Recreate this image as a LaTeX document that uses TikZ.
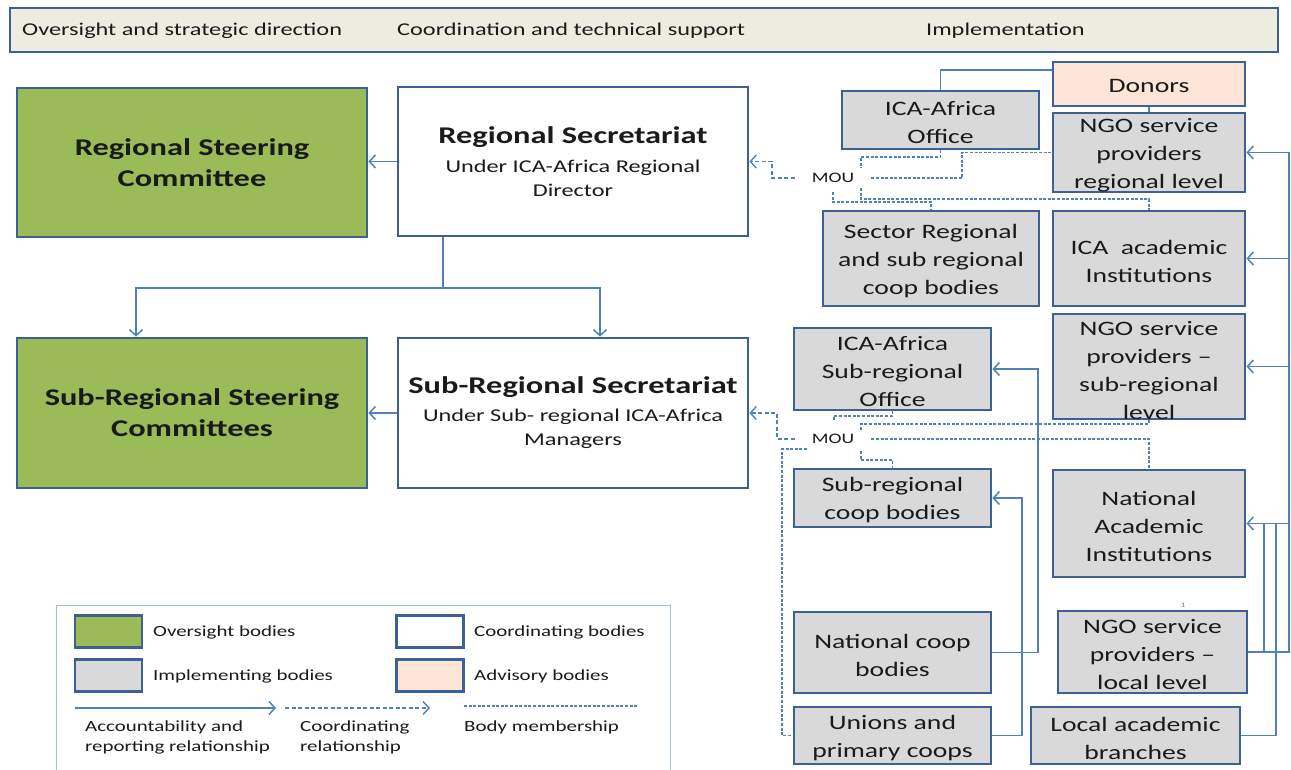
\documentclass[tikz,border=0pt]{standalone}
\usepackage{fontspec}
\setmainfont{Carlito}[FakeStretch=1.35]
\usetikzlibrary{arrows.meta}
\newcommand\fsz[2]{\fontsize{#1}{#2}\selectfont}
\definecolor{bordc}{HTML}{3D6194}
\definecolor{linec}{HTML}{4F81BD}
\definecolor{greenc}{HTML}{9BBB59}
\definecolor{grayc}{HTML}{D9D9D9}
\definecolor{peachc}{HTML}{FCE4D6}
\definecolor{hdrc}{HTML}{EEECE1}
\definecolor{legc}{HTML}{A7BCDA}
\definecolor{txtc}{HTML}{1A1A1A}
\tikzset{
  bx/.style={draw=bordc, line width=2.8pt, inner sep=0pt, align=center, text=txtc},
  oversight/.style={bx, fill=greenc, font=\bfseries\fsz{24}{31}},
  coordbody/.style={bx, fill=white, font=\fsz{18}{24}},
  impl/.style={bx, fill=grayc},
  advis/.style={bx, fill=peachc},
  % box text, set as a centred label a little below the box centre
  itxt/.style={font=\fsz{20.5}{28}, text=txtc, align=center, inner sep=0pt, yshift=-2.5pt},
  swatch/.style={bx, minimum width=67pt, minimum height=32pt},
  acc/.style={draw=linec, line width=1.5pt},
  accarrow/.style={acc, -{Straight Barb[length=6pt,width=13pt,line width=1.5pt]}},
  coordarrow/.style={draw=linec, line width=1.4pt, dash pattern=on 4pt off 2.5pt,
    -{Straight Barb[length=6pt,width=13pt,line width=1.4pt]}},
  member/.style={draw=linec, line width=1.4pt, dash pattern=on 3pt off 1.6pt},
  moutxt/.style={font=\fsz{14.5}{16}, text=txtc, inner xsep=17pt, inner ysep=2pt},
  hdrtxt/.style={font=\fsz{18}{22}, text=txtc, anchor=west, inner sep=0pt},
  legtxt/.style={font=\fsz{15.5}{20}, text=txtc, anchor=west, inner sep=0pt, align=left},
}
\begin{document}
\begin{tikzpicture}[x=1pt,y=-1pt]
\useasboundingbox (0,0) rectangle (1291,770);

% header band
\node[draw=bordc, line width=2.5pt, fill=hdrc, minimum width=1268pt, minimum height=44pt, inner sep=0pt] (hdr) at (644,30) {};
\node[hdrtxt] (h1) at (22,31) {Oversight and strategic direction};
\node[hdrtxt] (h2) at (397,31) {Coordination and technical support};
\node[hdrtxt] (h3) at (926,31) {Implementation};

% oversight and coordinating bodies
\node[oversight, minimum width=350pt, minimum height=149pt] (rsc) at (192,162.5) {Regional Steering\\Committee};
\node[oversight, minimum width=350pt, minimum height=150pt] (srsc) at (192,413) {Sub-Regional Steering\\Committees};
\node[coordbody, minimum width=350pt, minimum height=149pt] (rsec) at (573,161.5)
  {{\bfseries\fsz{24}{29}Regional Secretariat}\\[5pt]Under ICA-Africa Regional\\Director};
\node[coordbody, minimum width=350pt, minimum height=150pt] (srsec) at (573,413)
  {{\bfseries\fsz{24}{29}Sub-Regional Secretariat}\\[4pt]Under Sub- regional ICA-Africa\\Managers};

% implementing and advisory bodies
\node[advis, minimum width=192pt, minimum height=44pt, label={[itxt]center:Donors}] (donors) at (1149,84) {};
\node[impl, minimum width=197pt, minimum height=58pt, label={[itxt]center:ICA-Africa\\Office}] (office) at (940.5,120) {};
\node[impl, minimum width=192pt, minimum height=79pt, label={[itxt]center:NGO service\\providers\\regional level}] (ngoreg) at (1149,152.5) {};
\node[impl, minimum width=216pt, minimum height=95pt, label={[itxt]center:Sector Regional\\and sub regional\\coop bodies}] (sector) at (931,258.5) {};
\node[impl, minimum width=192pt, minimum height=95pt, label={[itxt]center:ICA\ \ academic\\Institutions}] (icaacad) at (1149,258.5) {};
\node[impl, minimum width=197pt, minimum height=82pt, label={[itxt]center:ICA-Africa\\Sub-regional\\Office}] (subofc) at (892.5,369) {};
\node[impl, minimum width=192pt, minimum height=105pt, label={[itxt, yshift=-1.5pt]center:NGO service\\providers --\\sub-regional\\level}] (ngosub) at (1149,366.5) {};
\node[impl, minimum width=197pt, minimum height=58pt, label={[itxt]center:Sub-regional\\coop bodies}] (subcoop) at (892.5,498) {};
\node[impl, minimum width=192pt, minimum height=107pt, label={[itxt]center:National\\Academic\\Institutions}] (natacad) at (1149,523.5) {};
\node[impl, minimum width=197pt, minimum height=81pt, label={[itxt]center:National coop\\bodies}] (natcoop) at (892.5,652.5) {};
\node[impl, minimum width=189pt, minimum height=82pt, label={[itxt]center:NGO service\\providers --\\local level}] (ngoloc) at (1152.5,652) {};
\node[impl, minimum width=197pt, minimum height=57pt, label={[itxt]center:Unions and\\primary coops}] (unions) at (892.5,735.5) {};
\node[impl, minimum width=209pt, minimum height=57pt, label={[itxt]center:Local academic\\branches}] (localacad) at (1135.5,735.5) {};
\node[font=\fsz{7}{8}, text=gray, inner sep=0pt] (fn) at (1183,605) {1};

% accountability lines on the left
\draw[accarrow] (rsec.west) -- (rsc.east |- rsec.west);
\draw[accarrow] (srsec.west) -- (srsc.east);
\coordinate (split) at (443,288);
\draw[acc] (rsec.south -| split) -- (split);
\draw[accarrow] (split) -| ([xshift=-56pt]srsc.north);
\draw[accarrow] (split) -| ([xshift=27pt]srsec.north);

% donors
\draw[acc] ([yshift=14pt]donors.west) -| (office.north);
\draw[acc] (donors.south) -- (ngoreg.north);

% right-hand spine
\coordinate (sp1) at (1289,0);
\coordinate (sp2) at (1276,0);
\coordinate (sp3) at (1264,0);
\draw[acc] (sp1 |- ngoreg.east) -- (sp1 |- ngoloc.east) -- (ngoloc.east);
\draw[accarrow] (sp1 |- ngoreg.east) -- (ngoreg.east);
\draw[accarrow] (sp1 |- icaacad.east) -- (icaacad.east);
\draw[accarrow] (sp1 |- ngosub.east) -- (ngosub.east);
\draw[accarrow] (sp1 |- natacad.east) -- (natacad.east);
\draw[acc] (localacad.east) -| (sp2 |- natacad.east);
\draw[acc] (sp3 |- natacad.east) -- (sp3 |- ngoloc.east);

% national and local coop bodies
\coordinate (c1) at (1038,0);
\coordinate (c2) at (1022,0);
\draw[accarrow] (natcoop.east) -- (natcoop.east -| c1) -- (c1 |- subofc.east) -- (subofc.east);
\draw[accarrow] (unions.east) -- (unions.east -| c2) -- (c2 |- subcoop.east) -- (subcoop.east);

% regional MOU
\node[moutxt] (mou1) at (833,178) {MOU};
\coordinate (d1) at (772,0);
\draw[coordarrow] (mou1.west) -| (d1 |- rsec.east) -- (rsec.east);
\coordinate (d2) at (962,0);
\draw[member] (mou1.east) -| (d2 |- ngoreg.west) -- (ngoreg.west);
\coordinate (m1) at (861,168);
\draw[member] (office.south) -- (office.south |- 0,157) -| (m1);
\coordinate (m2) at (833,192);
\draw[member] (m2) -- (m2 |- 0,202) -| (sector.north);
\coordinate (m3) at (861,188);
\draw[member] (m3) -- (m3 |- 0,199) -| (icaacad.north);

% sub-regional MOU
\node[moutxt] (mou2) at (833,439) {MOU};
\coordinate (d3) at (777,0);
\draw[coordarrow] (mou2.west) -| (d3 |- srsec.east) -- (srsec.east);
\draw[member] (mou2.east) -| (natacad.north);
\coordinate (m4) at (834,421);
\draw[member] (subofc.south) -- (subofc.south |- 0,416) -| (m4);
\coordinate (m5) at (861,430);
\draw[member] (ngosub.south) -- (ngosub.south |- 0,424) -| (m5);
\coordinate (m6) at (807,449);
\coordinate (d4) at (782,0);
\draw[member] (m6) -| (d4 |- unions.west) -- (unions.west);
\coordinate (m7) at (861,451);
\draw[member] (m7) -- (m7 |- 0,460) -| (subcoop.north);

% legend
\draw[draw=legc, line width=1pt] (56,775) -- (56,605) -- (670,605) -- (670,775);
\node[swatch, fill=greenc] (lg1) at (108.5,631.5) {};
\node[swatch, fill=grayc] (lg2) at (108.5,675.5) {};
\node[swatch, fill=white] (lg3) at (430,631.5) {};
\node[swatch, fill=peachc] (lg4) at (430,675.5) {};
\node[legtxt] (lt1) at (153,632.5) {Oversight bodies};
\node[legtxt] (lt2) at (153,676.5) {Implementing bodies};
\node[legtxt] (lt3) at (474,632.5) {Coordinating bodies};
\node[legtxt] (lt4) at (474,676.5) {Advisory bodies};
\coordinate (la1) at (75,708);
\coordinate (la2) at (276,708);
\coordinate (lb1) at (285,708);
\coordinate (lb2) at (430,708);
\coordinate (lc1) at (464,706);
\coordinate (lc2) at (638,706);
\draw[accarrow] (la1) -- (la2);
\draw[coordarrow] (lb1) -- (lb2);
\draw[member] (lc1) -- (lc2);
\node[legtxt, anchor=north west] (lt5) at (85,721) {Accountability and\\reporting relationship};
\node[legtxt, anchor=north west] (lt6) at (300,721) {Coordinating\\relationship};
\node[legtxt, anchor=north west] (lt7) at (464,721) {Body membership};
\end{tikzpicture}
\end{document}
